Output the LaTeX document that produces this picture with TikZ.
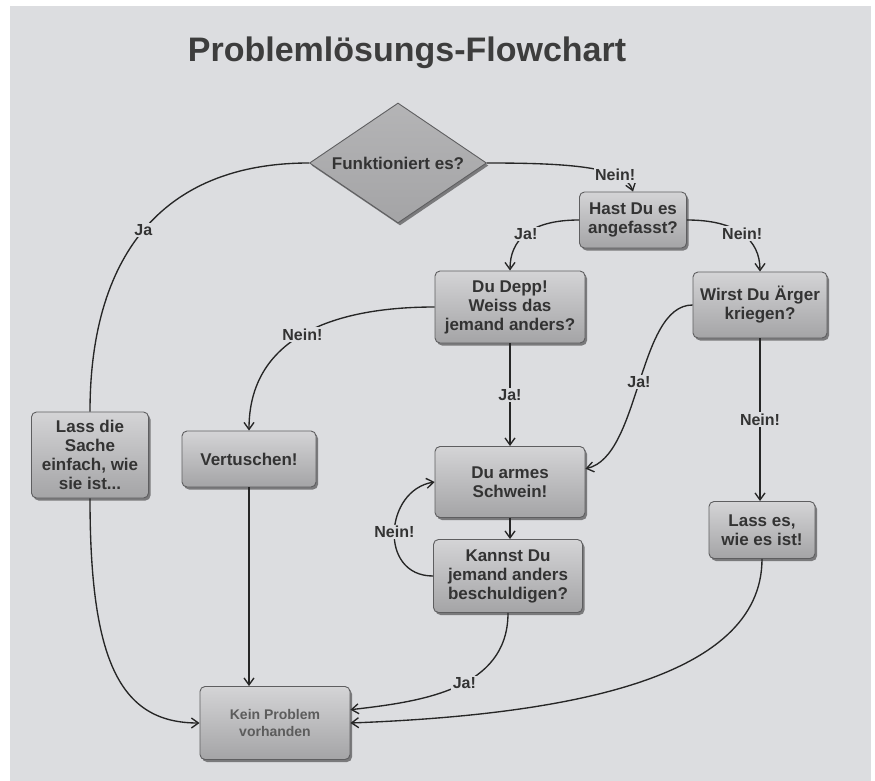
\documentclass[tikz,border=0pt]{standalone}
\usepackage{fontspec}
\setmainfont{Liberation Sans}
\usetikzlibrary{shapes.geometric,shadows,arrows.meta}
\definecolor{bggray}{HTML}{DCDDE0}
\definecolor{boxtop}{HTML}{D4D4D6}
\definecolor{boxbot}{HTML}{A4A4A6}
\definecolor{boxline}{HTML}{5E5E60}
\definecolor{shadowgray}{HTML}{7A7A7C}
\definecolor{linecol}{HTML}{262626}
\definecolor{textcol}{HTML}{333333}
\begin{document}
\begin{tikzpicture}[x=1pt, y=-1pt,
	box/.style={rectangle, rounded corners=5pt, draw=boxline, line width=.9pt, top color=boxtop, bottom color=boxbot,
		drop shadow={shadow xshift=2pt, shadow yshift=-2.5pt, fill=shadowgray, opacity=1},
		align=center, inner sep=2pt, text=textcol, font=\fontsize{17}{19}\selectfont\bfseries},
	decision/.style={box, diamond, rounded corners=0pt, aspect=1.47, inner sep=0pt, top color=boxtop!85!black, bottom color=boxbot},
	conn/.style={draw=linecol, line width=1.35pt},
	arr/.style={conn, -{Straight Barb[length=7pt, width=10pt]}},
	lbl/.style={fill=bggray, inner sep=1.5pt, text=textcol, font=\fontsize{16}{18}\selectfont\bfseries},
	title/.style={text=textcol!95!white, font=\fontsize{34}{40}\selectfont\bfseries}]
		\useasboundingbox (0, 0) rectangle (875, 781);
		\fill[white] (0, 0) rectangle (875, 781);
		\fill[bggray] (10, 6) rectangle (871, 781);
		\node[title, anchor=base] (title) at (407, 62) {Problemlösungs-Flowchart};
		\node[decision, minimum width=177pt, minimum height=120pt] (dia) at (398, 163) {Funktioniert es?};
		\node[box, minimum width=107pt, minimum height=56pt] (hast) at (633, 220) {Hast Du es\\angefasst?};
		\node[box, minimum width=150pt, minimum height=72pt] (depp) at (510, 307) {Du Depp!\\Weiss das\\jemand anders?};
		\node[box, minimum width=134pt, minimum height=66pt] (wirst) at (760, 305) {Wirst Du Ärger\\kriegen?};
		\node[box, minimum width=150pt, minimum height=71pt] (armes) at (510, 482) {Du armes\\Schwein!};
		\node[box, minimum width=149pt, minimum height=73pt] (kannst) at (508, 576) {Kannst Du\\jemand anders\\beschuldigen?};
		\node[box, minimum width=106pt, minimum height=57pt] (lassb) at (762, 530) {Lass es,\\wie es ist!};
		\node[box, minimum width=117pt, minimum height=86pt] (lassa) at (90, 455) {Lass die\\Sache\\einfach, wie\\sie ist...};
		\node[box, minimum width=134pt, minimum height=56pt] (vert) at (249, 459) {Vertuschen!};
		\node[box, minimum width=150pt, minimum height=73pt, text=textcol!80!white, font=\fontsize{14}{17}\selectfont\bfseries] (kein) at (275, 723) {Kein Problem\\vorhanden};
		\draw[conn] (dia.west) .. controls +(-150, 0) and +(0, -152) .. node[lbl, pos=.5] {Ja} (lassa.north);
		\draw[arr] (dia.east) .. controls +(80, 0) and +(-8, -25) .. node[lbl, pos=.72] {Nein!} (hast.north);
		\draw[arr] (hast.west) .. controls +(-50, 0) and +(0, -30) .. node[lbl, pos=.5] {Ja!} (depp.north);
		\draw[arr] (hast.east) .. controls +(50, 0) and +(0, -32) .. node[lbl, pos=.5] {Nein!} (wirst.north);
		\draw[arr] (depp.west) .. controls +(-105, 0) and +(0, -91) .. node[lbl, pos=.5] {Nein!} (vert.north);
		\draw[arr] (depp.south) -- node[lbl] {Ja!} (armes.north);
		\draw[arr] (wirst.west) .. controls +(-55, 0) and +(55, -12) .. node[lbl, pos=.5] {Ja!} (armes.10);
		\draw[arr] (wirst.south) -- node[lbl] {Nein!} (wirst.south |- lassb.north);
		\draw[arr] (armes.south) -- (armes.south |- kannst.north);
		\draw[arr] (kannst.west) .. controls +(-55, 0) and +(-50, 8) .. node[lbl, pos=.5] {Nein!} (armes.west);
		\draw[arr] (lassa.south) .. controls +(0, 162) and +(-80, 0) .. (kein.west);
		\draw[arr] (vert.south) -- (vert.south |- kein.north);
		\draw[arr] (kannst.south) .. controls +(0, 77) and +(70, -8) .. node[lbl, pos=.45] {Ja!} (kein.10);
		\draw[arr] (lassb.south) .. controls +(0, 122) and +(210, -8) .. (kein.east);
\end{tikzpicture}
\end{document}
